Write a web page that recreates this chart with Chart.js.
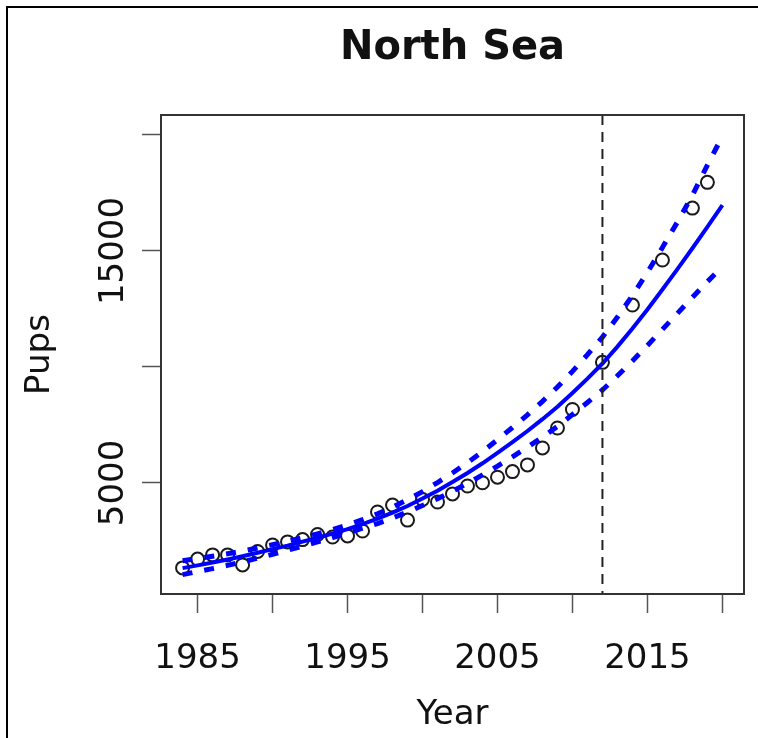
<!DOCTYPE html>
<html>
<head>
<meta charset="utf-8">
<script src="https://cdn.jsdelivr.net/npm/chart.js@4.4.1/dist/chart.umd.min.js"></script>
<style>
  html, body { margin: 0; padding: 0; background: #fff; }
  #wrap { width: 758px; height: 738px; position: relative; }
</style>
</head>
<body>
<div id="wrap"><canvas id="pups"></canvas></div>
<script>
// observed pup counts
const obsYears = [1984, 1985, 1986, 1987, 1988, 1989, 1990, 1991, 1992, 1993, 1994, 1995, 1996, 1997,
  1998, 1999, 2000, 2001, 2002, 2003, 2004, 2005, 2006, 2007, 2008, 2009, 2010, 2012, 2014, 2016, 2018, 2019];
const obsPups = [1340, 1720, 1900, 1900, 1470, 2050, 2330, 2460, 2560, 2780, 2670, 2720, 2930, 3750,
  4050, 3400, 4290, 4180, 4530, 4870, 5010, 5250, 5490, 5780, 6510, 7370, 8170, 10200, 12670, 14610, 16850, 17960];

// fitted trend and confidence band
const fitYears = [1984, 1985, 1986, 1987, 1988, 1989, 1990, 1991, 1992, 1993, 1994, 1995, 1996, 1997,
  1998, 1999, 2000, 2001, 2002, 2003, 2004, 2005, 2006, 2007, 2008, 2009, 2010, 2011, 2012, 2013,
  2014, 2015, 2016, 2017, 2018, 2019, 2020];
const fitPups = [1330, 1450, 1570, 1700, 1840, 1990, 2150, 2300, 2470, 2640, 2820, 3010, 3230, 3460,
  3720, 4010, 4330, 4670, 5040, 5430, 5850, 6300, 6760, 7240, 7750, 8290, 8880, 9500, 10150, 10880,
  11660, 12480, 13340, 14220, 15120, 16040, 16980];
const upperPups = [1650, 1740, 1840, 1950, 2070, 2200, 2340, 2480, 2640, 2810, 2990, 3190, 3420, 3670,
  3960, 4280, 4630, 5020, 5430, 5880, 6350, 6870, 7390, 7940, 8520, 9140, 9810, 10530, 11290, 12150,
  13080, 14080, 15150, 16250, 17400, 18700, 19950];
const lowerPups = [1050, 1180, 1310, 1450, 1600, 1760, 1930, 2100, 2280, 2460, 2650, 2840, 3050, 3250,
  3490, 3750, 4030, 4320, 4650, 4980, 5350, 5730, 6130, 6540, 6980, 7440, 7950, 8470, 9010, 9620,
  10260, 10930, 11620, 12310, 13000, 13680, 14320];

const CUTOFF_YEAR = 2012;
const xTicks = [1985, 1990, 1995, 2000, 2005, 2010, 2015, 2020];
const xLabels = [1985, 1995, 2005, 2015];
const yTicks = [5000, 10000, 15000, 20000];
const yLabels = [5000, 15000];

const FONT = 'DejaVu Sans';
const pts = (xs, ys) => xs.map((x, i) => ({ x, y: ys[i] }));

const decorations = {
  id: 'decorations',
  beforeDraw(chart) {
    const { ctx, width, height } = chart;
    ctx.save();
    ctx.fillStyle = '#fff';
    ctx.fillRect(0, 0, width, height);
    // outer frame (top and left edges)
    ctx.strokeStyle = '#000';
    ctx.lineWidth = 2;
    ctx.beginPath();
    ctx.moveTo(7, height);
    ctx.lineTo(7, 7);
    ctx.lineTo(width, 7);
    ctx.stroke();
    ctx.restore();
  },
  afterDatasetsDraw(chart) {
    const { ctx, chartArea: a, scales } = chart;
    ctx.save();
    const cx = scales.x.getPixelForValue(CUTOFF_YEAR);
    ctx.strokeStyle = '#222';
    ctx.lineWidth = 2;
    ctx.setLineDash([10, 7]);
    ctx.beginPath();
    ctx.moveTo(cx, a.top);
    ctx.lineTo(cx, a.bottom);
    ctx.stroke();
    ctx.setLineDash([]);
    ctx.strokeStyle = '#333';
    ctx.lineWidth = 2;
    ctx.strokeRect(a.left, a.top, a.right - a.left, a.bottom - a.top);
    ctx.restore();
  },
  afterDraw(chart) {
    // y tick labels run bottom-to-top
    const { ctx, scales } = chart;
    ctx.save();
    ctx.fillStyle = '#111';
    ctx.font = `34px "${FONT}"`;
    ctx.textAlign = 'center';
    ctx.textBaseline = 'middle';
    yLabels.forEach(v => {
      ctx.save();
      ctx.translate(114, scales.y.getPixelForValue(v));
      ctx.rotate(-Math.PI / 2);
      ctx.fillText(String(v), 0, 0);
      ctx.restore();
    });
    ctx.restore();
  }
};

new Chart(document.getElementById('pups'), {
  type: 'scatter',
  data: {
    datasets: [
      {
        label: 'Fit',
        data: pts(fitYears, fitPups),
        showLine: true,
        borderColor: '#0000ff',
        borderWidth: 4,
        pointRadius: 0,
        order: 1
      },
      {
        label: 'Upper',
        data: pts(fitYears, upperPups),
        showLine: true,
        borderColor: '#0000ff',
        borderWidth: 5,
        borderDash: [10, 12],
        pointRadius: 0,
        order: 1
      },
      {
        label: 'Lower',
        data: pts(fitYears, lowerPups),
        showLine: true,
        borderColor: '#0000ff',
        borderWidth: 5,
        borderDash: [10, 12],
        pointRadius: 0,
        order: 1
      },
      {
        label: 'Pups',
        data: pts(obsYears, obsPups),
        pointRadius: 6.5,
        pointBorderWidth: 2,
        borderColor: '#1a1a1a',
        backgroundColor: 'rgba(0,0,0,0)',
        order: 2
      }
    ]
  },
  options: {
    responsive: true,
    maintainAspectRatio: false,
    animation: false,
    devicePixelRatio: 1,
    layout: { padding: { left: 0, right: 14, top: 0, bottom: 0 } },
    plugins: {
      legend: { display: false },
      tooltip: { enabled: false },
      title: {
        display: true,
        text: 'North Sea',
        fullSize: false,
        color: '#111',
        font: { family: FONT, size: 40, weight: 'bold' },
        padding: { top: 25, bottom: 42 }
      }
    },
    scales: {
      x: {
        type: 'linear',
        bounds: 'data',
        min: 1982.56,
        max: 2021.44,
        afterFit(s) { s.height = 144; },
        afterBuildTicks(s) { s.ticks = xTicks.map(value => ({ value })); },
        border: { display: false },
        grid: { drawOnChartArea: false, tickLength: 19, tickColor: '#555', tickWidth: 1.5 },
        ticks: {
          autoSkip: false,
          maxRotation: 0,
          padding: 26,
          color: '#111',
          font: { family: FONT, size: 34 },
          callback: v => xLabels.includes(v) ? String(v) : ''
        },
        title: {
          display: true,
          text: 'Year',
          color: '#111',
          font: { family: FONT, size: 34 },
          padding: { top: 0, bottom: 2 }
        }
      },
      y: {
        type: 'linear',
        bounds: 'data',
        min: 215,
        max: 20862,
        afterFit(s) { s.width = 161; },
        afterBuildTicks(s) { s.ticks = yTicks.map(value => ({ value })); },
        border: { display: false },
        grid: { drawOnChartArea: false, tickLength: 19, tickColor: '#555', tickWidth: 1.5 },
        ticks: {
          padding: 0,
          callback: () => ''
        },
        title: {
          display: true,
          text: 'Pups',
          color: '#111',
          font: { family: FONT, size: 34 },
          padding: { top: 20, bottom: 0 }
        }
      }
    }
  },
  plugins: [decorations]
});
</script>
</body>
</html>
